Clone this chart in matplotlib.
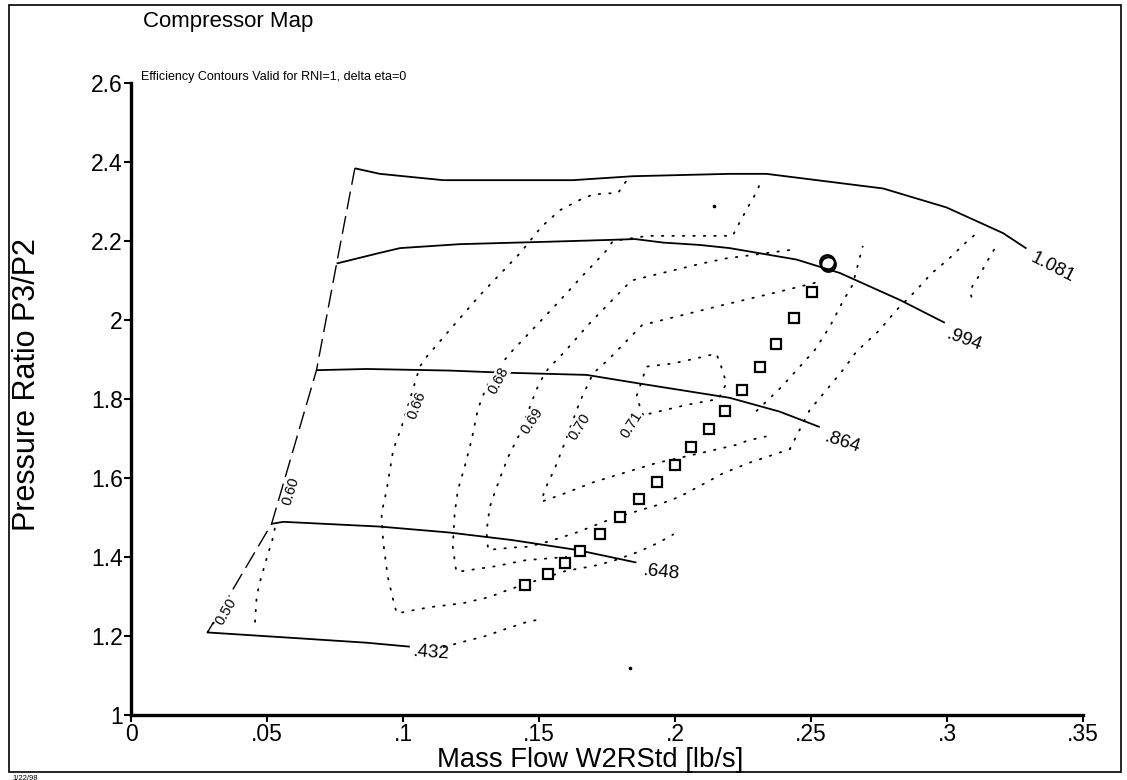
import numpy as np
import matplotlib
matplotlib.use("Agg")
import matplotlib.pyplot as plt
from matplotlib.patches import Rectangle

plt.rcParams['font.family'] = ['Liberation Sans', 'DejaVu Sans']

# ---------------------------------------------------------------------------
# Data (mass flow [lb/s], pressure ratio)
# ---------------------------------------------------------------------------
x_ticks = [0, 0.05, 0.1, 0.15, 0.2, 0.25, 0.3, 0.35]
x_tick_labels = ["0", ".05", ".1", ".15", ".2", ".25", ".3", ".35"]
y_ticks = [1, 1.2, 1.4, 1.6, 1.8, 2.0, 2.2, 2.4, 2.6]
y_tick_labels = ["1", "1.2", "1.4", "1.6", "1.8", "2", "2.2", "2.4", "2.6"]

# speed lines (solid)
speed_names = [".432", ".648", ".864", ".994", "1.081"]
speed_432 = [(0.0281, 1.209), (0.0621, 1.194), (0.0866, 1.183), (0.1025, 1.173)]
speed_648 = [(0.0517, 1.484), (0.0560, 1.489), (0.0621, 1.487), (0.0915, 1.477),
             (0.117, 1.462), (0.140, 1.443), (0.1638, 1.418), (0.1858, 1.386)]
speed_864 = [(0.0682, 1.873), (0.0866, 1.876), (0.117, 1.872), (0.1356, 1.867),
             (0.1675, 1.861), (0.1871, 1.839), (0.2091, 1.815), (0.2201, 1.803),
             (0.2385, 1.768), (0.2532, 1.729)]
speed_994 = [(0.0756, 2.143), (0.0915, 2.170), (0.0989, 2.182), (0.1209, 2.192),
             (0.1528, 2.198), (0.1772, 2.203), (0.1852, 2.205), (0.1956, 2.196),
             (0.2091, 2.190), (0.2201, 2.182), (0.2447, 2.153), (0.2606, 2.119),
             (0.2826, 2.051), (0.2992, 1.993)]
speed_1081 = [(0.0823, 2.384), (0.0915, 2.370), (0.1148, 2.354), (0.1624, 2.354),
              (0.1845, 2.364), (0.2201, 2.370), (0.2336, 2.370), (0.2765, 2.333),
              (0.2998, 2.285), (0.3206, 2.220), (0.3292, 2.181)]
speed_label_pos = [(0.1036, 1.160), (0.1883, 1.367), (0.2550, 1.705),
                   (0.2998, 1.966), (0.3310, 2.160)]
speed_label_rot = [-4, -6, -18, -20, -27]

# surge line (dashed)
surge = [(0.0281, 1.209), (0.0517, 1.484), (0.0682, 1.873), (0.0756, 2.143),
         (0.0823, 2.384)]

# efficiency contours (dotted), one list per visible piece
eff_050 = [(0.0281, 1.209), (0.0310, 1.240), (0.0345, 1.255)]
eff_060 = [(0.0456, 1.236), (0.0462, 1.300), (0.0474, 1.337), (0.0499, 1.397),
           (0.0523, 1.451), (0.0530, 1.477)]
eff_060_low = [(0.1150, 1.172), (0.1246, 1.190), (0.1295, 1.198), (0.1374, 1.217),
               (0.1466, 1.238), (0.1490, 1.240)]
eff_066 = [(0.1819, 2.350), (0.1791, 2.322), (0.1699, 2.318), (0.1650, 2.304),
           (0.1577, 2.278), (0.1509, 2.236), (0.1430, 2.169), (0.1283, 2.063),
           (0.1172, 1.975), (0.1087, 1.907), (0.1062, 1.882), (0.0995, 1.730),
           (0.0964, 1.671), (0.0940, 1.570), (0.0921, 1.510), (0.0927, 1.439),
           (0.0944, 1.350), (0.0964, 1.291), (0.0977, 1.257), (0.1013, 1.262),
           (0.1099, 1.273), (0.1220, 1.283), (0.1320, 1.299), (0.1368, 1.312),
           (0.1422, 1.325), (0.1600, 1.365), (0.1699, 1.377), (0.1772, 1.390),
           (0.1865, 1.413), (0.1939, 1.436), (0.1993, 1.457)]
eff_066_right = [(0.2422, 1.673), (0.2495, 1.772), (0.2557, 1.823), (0.2617, 1.873),
                 (0.2667, 1.920), (0.2753, 1.975), (0.2814, 2.025), (0.2881, 2.071),
                 (0.2943, 2.118), (0.3004, 2.153), (0.3072, 2.198), (0.3108, 2.219)]
eff_066_hook = [(0.3090, 2.059), (0.3084, 2.072), (0.3096, 2.089), (0.3115, 2.109),
                (0.3133, 2.130), (0.3157, 2.160), (0.3180, 2.186)]
eff_068 = [(0.2309, 2.339), (0.2290, 2.312), (0.2269, 2.287), (0.2248, 2.260),
           (0.2226, 2.232), (0.2212, 2.213), (0.1900, 2.213), (0.1772, 2.200),
           (0.1744, 2.173), (0.1656, 2.109), (0.1567, 2.042), (0.1475, 1.975),
           (0.1387, 1.911), (0.1356, 1.882), (0.1307, 1.831), (0.1276, 1.776),
           (0.1252, 1.696), (0.1227, 1.629), (0.1202, 1.570), (0.1190, 1.511),
           (0.1183, 1.426), (0.1196, 1.362), (0.1344, 1.377), (0.1400, 1.385),
           (0.1452, 1.392), (0.1600, 1.400)]
eff_068_right = [(0.2300, 1.770), (0.2323, 1.785), (0.2392, 1.831), (0.2459, 1.882),
                 (0.2514, 1.924), (0.2569, 1.983), (0.2617, 2.047), (0.2653, 2.089),
                 (0.2690, 2.186)]
eff_069 = [(0.2420, 2.177), (0.2189, 2.156), (0.2098, 2.143), (0.1971, 2.122),
           (0.1840, 2.100), (0.1770, 2.051), (0.1680, 1.987), (0.1595, 1.920),
           (0.1534, 1.877), (0.1515, 1.857), (0.1490, 1.823), (0.1430, 1.713),
           (0.1387, 1.654), (0.1356, 1.599), (0.1319, 1.527), (0.1307, 1.464),
           (0.1313, 1.418), (0.1405, 1.424), (0.1460, 1.426), (0.1534, 1.439),
           (0.1638, 1.462), (0.1772, 1.498), (0.1938, 1.532), (0.2018, 1.553),
           (0.2097, 1.582), (0.2177, 1.612), (0.2275, 1.639), (0.2323, 1.650),
           (0.2422, 1.673)]
eff_070 = [(0.2514, 2.094), (0.2385, 2.072), (0.2177, 2.038), (0.2048, 2.016),
           (0.1879, 1.987), (0.1815, 1.942), (0.1754, 1.899), (0.1699, 1.865),
           (0.1650, 1.793), (0.1589, 1.679), (0.1558, 1.624), (0.1521, 1.570),
           (0.1509, 1.540), (0.1583, 1.558), (0.1699, 1.589), (0.1846, 1.620),
           (0.1932, 1.638), (0.2100, 1.664), (0.2226, 1.684), (0.2268, 1.695),
           (0.2334, 1.705)]
eff_071 = [(0.1883, 1.759), (0.1858, 1.806), (0.1883, 1.856), (0.1895, 1.882),
           (0.1993, 1.890), (0.2079, 1.903), (0.2152, 1.915), (0.2170, 1.882),
           (0.2189, 1.840), (0.2160, 1.800), (0.2042, 1.785), (0.1883, 1.759)]
stray_dots = [(0.1836, 1.118), (0.2144, 2.289)]

eff_names = ["0.50", "0.60", "0.66", "0.68", "0.69", "0.70", "0.71"]
eff_label_pos = [(0.0349, 1.261), (0.0587, 1.566), (0.1050, 1.785), (0.1350, 1.847),
                 (0.1475, 1.745), (0.1650, 1.730), (0.1840, 1.734)]
eff_label_rot = [60, 73, 69, 62, 56, 58, 58]

# operating line (squares) and design point (circle)
op_flow = [0.1448, 0.1534, 0.1595, 0.1650, 0.1726, 0.1797, 0.1868, 0.1932, 0.1999,
           0.2060, 0.2124, 0.2183, 0.2248, 0.2312, 0.2373, 0.2438, 0.2502]
op_pr = [1.329, 1.357, 1.386, 1.416, 1.458, 1.502, 1.546, 1.589, 1.634,
         1.678, 1.723, 1.770, 1.823, 1.880, 1.939, 2.004, 2.072]
design_flow = [0.2563, 0.2558]
design_pr = [2.143, 2.147]


def xy(points):
    arr = np.array(points)
    return arr[:, 0], arr[:, 1]


fig = plt.figure(figsize=(11.27, 7.8), dpi=100)
ax = fig.add_axes([131 / 1127, 1 - 715 / 780, 952 / 1127, 632 / 780])

# speed lines
for pts, name, pos, rot in zip([speed_432, speed_648, speed_864, speed_994, speed_1081],
                               speed_names, speed_label_pos, speed_label_rot):
    ax.plot(*xy(pts), color="black", lw=1.3, solid_capstyle="butt")
    ax.text(pos[0], pos[1], name, fontsize=13.5, rotation=rot, rotation_mode="anchor",
            ha="left", va="center")

ax.plot(*xy(surge), color="black", lw=1.0, linestyle=(0, (13, 5)))

for pts in [eff_050, eff_060, eff_060_low, eff_066, eff_066_right, eff_066_hook,
            eff_068, eff_068_right, eff_069, eff_070, eff_071]:
    ax.plot(*xy(pts), color="black", lw=1.3, linestyle=(0, (0.8, 5)),
            dash_capstyle="round")
ax.plot(*xy(stray_dots), linestyle="none", marker="o", markersize=1.6, color="black")

for name, pos, rot in zip(eff_names, eff_label_pos, eff_label_rot):
    ax.text(pos[0], pos[1], name, fontsize=10.5, rotation=rot,
            rotation_mode="anchor", ha="center", va="center",
            bbox=dict(facecolor="white", edgecolor="none", pad=0.3))

ax.plot(op_flow, op_pr, linestyle="none", marker="s", markersize=7.5,
        markerfacecolor="white", markeredgecolor="black", markeredgewidth=1.6)
ax.plot(design_flow, design_pr, linestyle="none", marker="o", markersize=10.5,
        markerfacecolor="none", markeredgecolor="black", markeredgewidth=1.6)

ax.set_xlim(0, 0.35)
ax.set_ylim(1, 2.6)
ax.set_xticks(x_ticks)
ax.set_xticklabels(x_tick_labels)
ax.set_yticks(y_ticks)
ax.set_yticklabels(y_tick_labels)
ax.tick_params(direction="out", length=5, width=1.5, labelsize=16.5, pad=1)
for side in ["top", "right"]:
    ax.spines[side].set_visible(False)
for side in ["left", "bottom"]:
    ax.spines[side].set_linewidth(2.4)

fig.text(143 / 1127, 1 - 22 / 780, "Compressor Map", fontsize=16, ha="left", va="center")
fig.text(141 / 1127, 1 - 77 / 780, "Efficiency Contours Valid for RNI=1, delta eta=0",
         fontsize=9, ha="left", va="center")
fig.text(590 / 1127, 1 - 760 / 780, "Mass Flow W2RStd [lb/s]", fontsize=19.7,
         ha="center", va="center")
fig.text(27 / 1127, 1 - 385 / 780, "Pressure Ratio P3/P2", fontsize=22,
         ha="center", va="center", rotation=90)
fig.text(12 / 1127, 1 - 779.5 / 780, "1/22/98", fontsize=5.5, ha="left", va="baseline")

fig.patches.append(Rectangle((9 / 1127, 1 - 772 / 780), 1112 / 1127, 767 / 780,
                             transform=fig.transFigure, fill=False,
                             edgecolor="black", lw=1.2))

fig.savefig("out.png", dpi=100)
